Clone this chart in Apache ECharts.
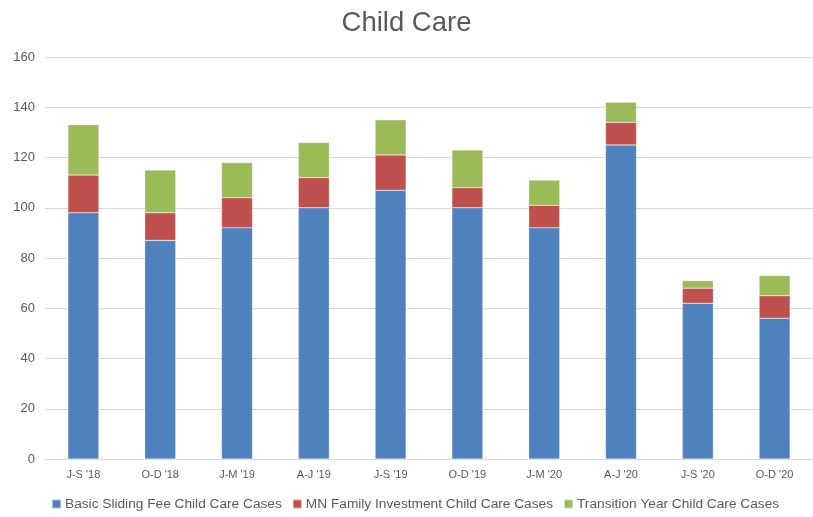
<!DOCTYPE html>
<html>
<head>
<meta charset="utf-8">
<script src="https://cdn.jsdelivr.net/npm/echarts@6/dist/echarts.min.js"></script>
<style>
  html, body { margin: 0; padding: 0; background: #fff; }
  #main { width: 813px; height: 517px; }
</style>
</head>
<body>
<div id="main"></div>
<script>
// 季度
var quarters = ["J-S '18", "O-D '18", "J-M '19", "A-J '19", "J-S '19", "O-D '19", "J-M '20", "A-J '20", "J-S '20", "O-D '20"];
// 各类案例数
var basicSliding = [98, 87, 92, 100, 107, 100, 92, 125, 62, 56];
var mnFamily = [15, 11, 12, 12, 14, 8, 9, 9, 6, 9];
var transitionYear = [20, 17, 14, 14, 14, 15, 10, 8, 3, 8];
var seriesNames = ['Basic Sliding Fee Child Care Cases', 'MN Family Investment Child Care Cases', 'Transition Year Child Care Cases'];
var colors = ['#4F81BD', '#C0504D', '#9BBB59'];

var chart = echarts.init(document.getElementById('main'));
var font = 'Liberation Sans, Arial, sans-serif';

function makeSeries(name, data, color) {
  return {
    name: name,
    type: 'bar',
    stack: 'total',
    barWidth: 31,
    data: data,
    itemStyle: { color: color, borderColor: 'rgba(255,255,255,0.5)', borderWidth: 0.5 }
  };
}

var option = {
  animation: false,
  title: {
    text: 'Child Care',
    left: 'center',
    top: 4,
    textStyle: { fontFamily: font, fontSize: 27.5, fontWeight: 'normal', color: '#595959' }
  },
  legend: {
    bottom: 1,
    left: 46,
    itemWidth: 9,
    itemHeight: 9,
    itemGap: 10,
    icon: 'rect',
    textStyle: { fontFamily: font, fontSize: 13.7, color: '#595959', padding: [0, 0, 0, -1] },
    data: seriesNames
  },
  grid: {
    left: 45,
    right: -6,
    top: 57,
    bottom: 58
  },
  xAxis: {
    type: 'category',
    data: quarters,
    axisLine: { lineStyle: { color: '#d9d9d9' } },
    axisTick: { show: false },
    axisLabel: { fontFamily: font, fontSize: 11, color: '#595959', margin: 10 }
  },
  yAxis: {
    type: 'value',
    min: 0,
    max: 160,
    interval: 20,
    axisLine: { show: false },
    axisTick: { show: false },
    splitLine: { lineStyle: { color: '#d9d9d9' } },
    axisLabel: { fontFamily: font, fontSize: 13, color: '#595959', margin: 10 }
  },
  series: [
    makeSeries(seriesNames[0], basicSliding, colors[0]),
    makeSeries(seriesNames[1], mnFamily, colors[1]),
    makeSeries(seriesNames[2], transitionYear, colors[2])
  ]
};

chart.setOption(option);
</script>
</body>
</html>
